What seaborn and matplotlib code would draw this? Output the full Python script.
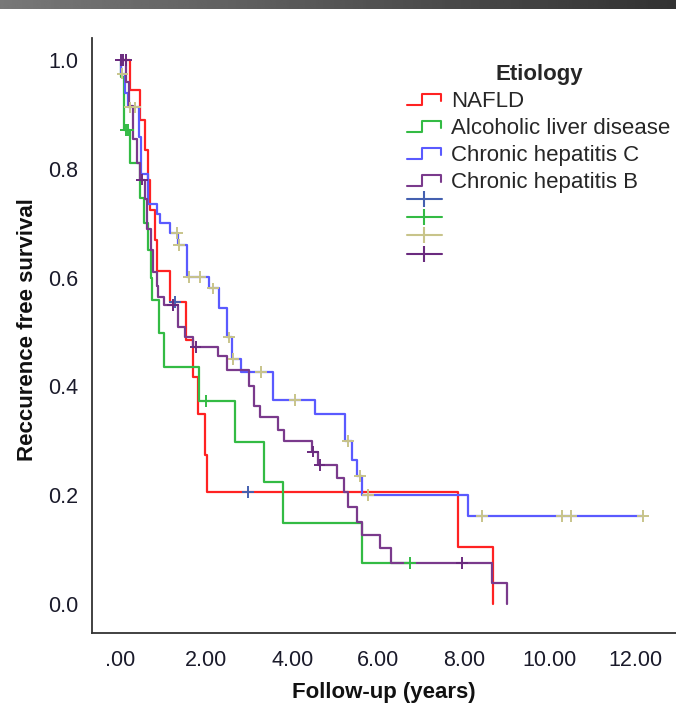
import numpy as np
import pandas as pd
import matplotlib
matplotlib.use("Agg")
import matplotlib.pyplot as plt
import seaborn as sns
from matplotlib.lines import Line2D
from matplotlib.legend_handler import HandlerBase

# ---------------- data ----------------
groups = ["NAFLD", "Alcoholic liver disease", "Chronic hepatitis C", "Chronic hepatitis B"]

nafld_t = [0, 0.22, 0.45, 0.57, 0.64, 0.68, 0.80, 0.85, 1.15, 1.52, 1.69, 1.81, 1.97, 2.01, 7.87, 8.68]
nafld_s = [1.0, 0.945, 0.89, 0.835, 0.78, 0.725, 0.67, 0.612, 0.555, 0.485, 0.418, 0.35, 0.274, 0.206, 0.105, 0.0]
nafld_ct = [1.27, 2.97]
nafld_cs = [0.555, 0.206]

ald_t = [0, 0.02, 0.07, 0.22, 0.45, 0.55, 0.64, 0.70, 0.74, 0.89, 1.0, 1.82, 2.67, 3.34, 3.78, 5.63, 6.75]
ald_s = [1.0, 0.968, 0.871, 0.81, 0.746, 0.70, 0.65, 0.60, 0.559, 0.498, 0.436, 0.373, 0.298, 0.224, 0.149, 0.075, 0.075]
ald_ct = [0.13, 0.18, 2.0, 6.75]
ald_cs = [0.871, 0.871, 0.373, 0.075]

hcv_t = [0, 0.02, 0.10, 0.18, 0.42, 0.48, 0.64, 0.85, 0.92, 1.15, 1.33, 1.55, 2.07, 2.30, 2.47, 2.60,
         2.80, 3.55, 4.53, 5.23, 5.40, 5.50, 5.62, 8.10, 12.18]
hcv_s = [1.0, 0.975, 0.94, 0.913, 0.858, 0.79, 0.735, 0.716, 0.70, 0.682, 0.66, 0.601, 0.58, 0.545, 0.49, 0.45,
         0.426, 0.375, 0.349, 0.30, 0.265, 0.235, 0.20, 0.162, 0.162]
hcv_ct = [0.04, 0.22, 0.33, 1.32, 1.36, 1.60, 1.85, 2.15, 2.53, 2.63, 3.27, 4.06, 5.30, 5.58, 5.77,
          8.42, 10.29, 10.50, 12.18]
hcv_cs = [0.975, 0.913, 0.913, 0.682, 0.66, 0.601, 0.601, 0.58, 0.49, 0.45, 0.426, 0.375, 0.30, 0.235, 0.20,
          0.162, 0.162, 0.162, 0.162]

hbv_t = [0, 0.13, 0.20, 0.28, 0.38, 0.45, 0.56, 0.62, 0.70, 0.75, 0.84, 0.88, 1.0, 1.33, 1.50, 1.68, 2.28,
         2.47, 3.0, 3.12, 3.25, 3.67, 3.80, 4.45, 4.60, 5.05, 5.20, 5.30, 5.50, 5.63, 6.05, 6.30, 8.66, 9.00]
hbv_s = [1.0, 0.96, 0.915, 0.855, 0.81, 0.78, 0.745, 0.69, 0.65, 0.61, 0.585, 0.565, 0.55, 0.51, 0.49, 0.472,
         0.455, 0.43, 0.40, 0.364, 0.343, 0.32, 0.30, 0.28, 0.256, 0.232, 0.206, 0.178, 0.15, 0.127, 0.103,
         0.075, 0.039, 0.0]
hbv_ct = [0.0, 0.05, 0.12, 0.50, 1.22, 1.75, 4.48, 4.64, 7.96]
hbv_cs = [1.0, 1.0, 1.0, 0.78, 0.55, 0.472, 0.28, 0.256, 0.075]

x_ticks = [0, 2, 4, 6, 8, 10, 12]
x_ticklabels = [".00", "2.00", "4.00", "6.00", "8.00", "10.00", "12.00"]
y_ticks = [0.0, 0.2, 0.4, 0.6, 0.8, 1.0]
y_ticklabels = ["0.0", "0.2", "0.4", "0.6", "0.8", "1.0"]

# ---------------- styling ----------------
line_colors = ["#FF2222", "#33BB44", "#5A5AFF", "#7A3A8C"]
censor_colors = ["#4460B0", "#33BB44", "#C8C48A", "#6A2A7E"]

sns.set_style("white")
plt.rcParams["font.family"] = ["Liberation Sans", "DejaVu Sans"]

steps = pd.concat([
    pd.DataFrame({"time": t, "surv": s, "group": g})
    for g, t, s in zip(groups, [nafld_t, ald_t, hcv_t, hbv_t], [nafld_s, ald_s, hcv_s, hbv_s])
], ignore_index=True)
cens = pd.concat([
    pd.DataFrame({"time": t, "surv": s, "group": g})
    for g, t, s in zip(groups, [nafld_ct, ald_ct, hcv_ct, hbv_ct], [nafld_cs, ald_cs, hcv_cs, hbv_cs])
], ignore_index=True)

W, H = 676, 705
fig = plt.figure(figsize=(W / 100, H / 100), dpi=100)
fig.patch.set_facecolor("white")

# top gradient bar
bar = fig.add_axes([0, 1 - 9 / H, 1, 9 / H])
bar.imshow(np.linspace(0.47, 0.2, 256)[None, :], cmap="gray", vmin=0, vmax=1, aspect="auto")
bar.set_axis_off()

ax = fig.add_axes([92 / W, 1 - 633 / H, (W - 92) / W, (633 - 38) / H])

sns.lineplot(data=steps, x="time", y="surv", hue="group", hue_order=groups,
             palette=dict(zip(groups, line_colors)), estimator=None, sort=False,
             drawstyle="steps-post", linewidth=1.6, legend=False, ax=ax)
sns.scatterplot(data=cens, x="time", y="surv", hue="group", hue_order=groups,
                palette=dict(zip(groups, censor_colors)), marker="+", s=70,
                linewidth=1.4, legend=False, ax=ax, zorder=4)

ax.set_xlim((92 - 120.6) / 42.9, (W - 120.6) / 42.9)
ax.set_ylim(-(633 - 604) / 544, 1 + (60 - 38) / 544)
ax.set_xticks(x_ticks)
ax.set_xticklabels(x_ticklabels)
ax.set_yticks(y_ticks)
ax.set_yticklabels(y_ticklabels)
for sp in ["top", "right"]:
    ax.spines[sp].set_visible(False)
for sp in ["left", "bottom"]:
    ax.spines[sp].set_color("#333333")
    ax.spines[sp].set_linewidth(1.3)
ax.tick_params(axis="both", which="major", length=7, width=1.3, color="#333333",
               labelsize=15.5, labelcolor="#1a1a2a", pad=3)
ax.tick_params(axis="x", pad=5)

ax.set_xlabel("Follow-up (years)", fontsize=16, fontweight="bold", color="#111111")
ax.set_ylabel("Reccurence free survival", fontsize=16, fontweight="bold", color="#111111")
ax.yaxis.set_label_coords((38 - 92) / (W - 92), (633 - 330) / 595)
ax.xaxis.set_label_coords(0.5, (633 - 682) / 595)


class StepHandler(HandlerBase):
    def create_artists(self, legend, orig_handle, xdescent, ydescent, width, height, fontsize, trans):
        x0 = -xdescent
        x1 = x0 + width
        y0 = -ydescent
        xm = x0 + 0.43 * width
        yl = y0 + 0.1 * height
        yh = y0 + 0.85 * height
        ln = Line2D([x0, xm, xm, x1, x1], [yl, yl, yh, yh, y0 + 0.4 * height],
                    color=orig_handle.get_color(), lw=orig_handle.get_linewidth())
        ln.set_transform(trans)
        return [ln]


step_handles = [Line2D([], [], color=c, lw=1.5) for c in line_colors]
leg1 = ax.legend(step_handles, groups, handler_map={Line2D: StepHandler()},
                 title="Etiology", title_fontproperties={"weight": "bold", "size": 16},
                 fontsize=16, frameon=False, loc="upper left",
                 bbox_to_anchor=(407 / W, 1 - 64 / H), bbox_transform=fig.transFigure,
                 borderpad=0, borderaxespad=0, handlelength=1.55, handletextpad=0.45,
                 labelspacing=0.27)
ax.add_artist(leg1)

cens_handles = [Line2D([], [], color=c, lw=1.5, marker="|", markersize=11, markeredgewidth=1.5)
                for c in censor_colors]
leg2 = ax.legend(cens_handles, ["", "", "", ""], fontsize=10, frameon=False, loc="upper left",
                 bbox_to_anchor=(407 / W, 1 - 193 / H), bbox_transform=fig.transFigure,
                 borderpad=0, borderaxespad=0, handlelength=2.5, handletextpad=0.3,
                 labelspacing=0.3, numpoints=1)

fig.savefig("out.png", dpi=100)
